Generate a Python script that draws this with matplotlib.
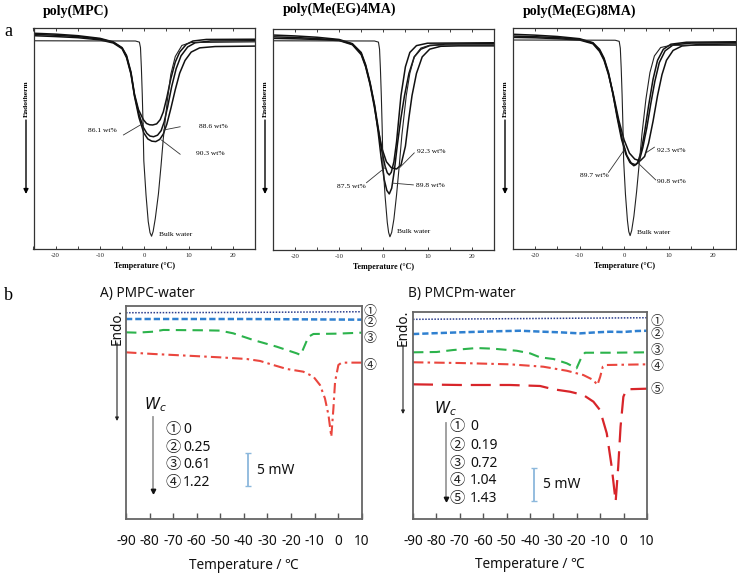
import matplotlib
matplotlib.use('Agg')
import matplotlib.pyplot as plt
from matplotlib.ticker import MultipleLocator, FixedLocator

plt.rcParams['axes.unicode_minus'] = False
plt.rcParams['mathtext.fontset'] = 'dejavusans'

SERIF = ['Liberation Serif', 'DejaVu Serif']
SANS = ['Noto Sans', 'Noto Sans CJK JP', 'DejaVu Sans']
CJK = ['Noto Sans CJK JP', 'DejaVu Sans']

# ---------------- part a : DSC heating curves (T in degC, relative heat flow) ----
top_titles = ['poly(MPC)', 'poly(Me(EG)4MA)', 'poly(Me(EG)8MA)']
top_ticks = [-20, -10, 0, 10, 20]

# poly(MPC)
mpc_bulk_T = [-25, -2, -1.1, -0.85, -0.65, -0.45, -0.25, -0.1, 0.4, 0.9, 1.3, 1.65, 2.0, 2.5, 3.2, 3.8, 4.3, 5.2, 6.0, 7.0, 8.5, 10.5, 25]
mpc_bulk_h = [94.1, 94.0, 93.5, 91, 82, 70, 55, 40, 24.5, 12.5, 7.5, 5.9, 8, 14, 25, 38, 50, 67, 79, 87, 92, 93.3, 93.6]
mpc_861_T = [-25, -20, -15, -10, -7, -5, -4, -3, -2.2, -1.3, -0.2, 0.5, 1.2, 1.9, 2.8, 3.6, 4.3, 5.1, 6.0, 7.0, 8.0, 9.5, 11, 14, 25]
mpc_861_h = [97.5, 97.1, 96.4, 95.2, 93.6, 91, 87.5, 80, 70, 63, 58.5, 56.8, 56.2, 56.1, 56.6, 58.5, 62, 68.5, 77, 84.5, 89, 92.5, 94, 94.7, 94.8]
mpc_886_T = [-25, -20, -15, -10, -7, -5, -4, -3, -2.2, -1.2, -0.2, 0.6, 1.3, 2.1, 3.0, 3.8, 4.5, 5.3, 6.2, 7.2, 8.3, 9.8, 11.5, 15, 25]
mpc_886_h = [97.0, 96.6, 96.0, 94.9, 93.4, 90.8, 87, 79.5, 69.5, 61, 55, 52.3, 51.1, 50.8, 51.5, 53.5, 57.5, 64.5, 73.5, 81.5, 87.3, 91.3, 93.2, 94.0, 94.1]
mpc_903_T = [-25, -20, -15, -10, -7, -5, -4, -3, -2.2, -1.2, -0.1, 0.8, 1.7, 2.6, 3.5, 4.3, 5.1, 6.0, 7.0, 8.0, 9.2, 10.6, 12.5, 16, 25]
mpc_903_h = [96.4, 96.0, 95.5, 94.5, 93.1, 90.5, 86.5, 79, 69, 59.5, 52.5, 49.8, 48.8, 48.6, 49.6, 52, 56.5, 63.5, 72, 79.5, 85.2, 89, 90.9, 91.5, 91.7]

# poly(Me(EG)4MA)
eg4_bulk_T = [-25, -2, -1.1, -0.85, -0.65, -0.45, -0.25, -0.1, 0.4, 0.9, 1.2, 1.5, 1.9, 2.4, 3.0, 3.6, 4.2, 5.2, 6.0, 7.0, 8.5, 10.5, 25]
eg4_bulk_h = [94.8, 94.7, 94.2, 91, 82, 70, 55, 40, 24.5, 12.5, 8, 6.0, 8, 14, 25, 38, 52, 70, 80, 87.5, 91.5, 92.8, 93.0]
eg4_875_T = [-25, -20, -15, -10, -7, -5, -4, -3, -2, -1.2, -0.4, 0.4, 0.9, 1.35, 1.8, 2.4, 3.0, 4.0, 5.0, 6.0, 7.5, 10, 25]
eg4_875_h = [97.4, 97.0, 96.4, 95.4, 93.5, 89.5, 84, 76, 66, 56, 45.5, 38, 35, 34.0, 35.2, 40, 49, 70, 83, 89.5, 92.6, 93.7, 93.9]
eg4_898_T = [-25, -20, -15, -10, -7, -5, -4, -3, -2, -1.2, -0.5, 0.2, 0.8, 1.35, 1.9, 2.5, 3.2, 4.0, 4.8, 5.8, 7, 8.5, 10.5, 14, 25]
eg4_898_h = [96.6, 96.3, 95.8, 95.1, 93.3, 89, 83.5, 75.5, 65.5, 54, 42, 32, 27, 25.4, 28, 36, 48, 60, 70, 80, 87.5, 91, 92.6, 93.3, 93.5]
eg4_923_T = [-25, -20, -15, -10, -7, -5, -4, -3, -2, -1.2, -0.3, 0.7, 1.8, 3.0, 4.0, 5.0, 5.8, 6.5, 7.5, 8.8, 10.5, 13, 17, 25]
eg4_923_h = [95.9, 95.7, 95.4, 94.9, 93, 88.5, 83, 75, 64.5, 55, 46, 40, 37.3, 36.7, 38.5, 47, 60, 70, 80, 87.5, 91, 92.3, 92.5, 92.5]

# poly(Me(EG)8MA)
eg8_bulk_T = [-25, -2, -1.1, -0.85, -0.65, -0.45, -0.25, -0.1, 0.3, 0.75, 1.05, 1.35, 1.7, 2.2, 2.8, 3.4, 4.0, 4.9, 5.8, 6.8, 8.2, 10.5, 25]
eg8_bulk_h = [94.7, 94.6, 94.1, 91, 82, 70, 55, 40, 25, 13, 8, 6.2, 8.5, 15, 26, 39, 52, 68, 80, 87.5, 91.3, 92.3, 92.3]
eg8_897_T = [-25, -20, -15, -10, -7, -5.5, -4.5, -3.5, -2.6, -1.6, -0.6, 0.4, 1.3, 2.2, 3.0, 3.8, 4.6, 5.5, 6.5, 7.5, 8.8, 10.5, 14, 25]
eg8_897_h = [97.3, 96.9, 96.3, 95.3, 93.5, 90.5, 86.5, 80, 71.5, 60, 50, 43, 39.3, 37.8, 39, 44, 53, 65, 77, 85.5, 90.5, 92.8, 93.7, 93.9]
eg8_908_T = [-25, -20, -15, -10, -7, -5.5, -4.5, -3.5, -2.6, -1.4, -0.4, 0.6, 1.6, 2.6, 3.4, 4.2, 5.1, 6.0, 6.9, 7.9, 9.2, 11, 15, 25]
eg8_908_h = [96.5, 96.2, 95.8, 95.0, 93.3, 90, 86, 79.5, 71, 59, 49.5, 42.5, 39, 38.2, 40, 46, 55, 66, 76, 84.5, 89.8, 92.5, 93.3, 93.5]
eg8_923_T = [-25, -20, -15, -10, -7, -5.5, -4.5, -3.5, -2.4, -1.2, 0, 1.2, 2.4, 3.6, 4.6, 5.5, 6.5, 7.5, 8.5, 9.5, 11, 13, 17, 25]
eg8_923_h = [95.9, 95.7, 95.3, 94.7, 93, 89.5, 85.5, 79, 70, 58.5, 49.5, 43.5, 40.8, 40.0, 42, 48, 58, 69.5, 79, 85.5, 90, 92, 92.7, 92.9]

# ---------------- part b : DSC curves (T in degC, heat flow in mW) -----
bottom_ticks = [-90, -80, -70, -60, -50, -40, -30, -20, -10, 0, 10]
circled = ['①', '②', '③', '④', '⑤']
pmpc_wc = ['0', '0.25', '0.61', '1.22']
pmcpm_wc = ['0', '0.19', '0.72', '1.04', '1.43']

pmpc1_T = [-90, -40, 10]
pmpc1_h = [31.25, 31.3, 31.4]
pmpc2_T = [-90, -40, 10]
pmpc2_h = [30.3, 30.3, 30.2]
pmpc3_T = [-90, -85.5, -78.4, -74.2, -57.2, -50.1, -44.5, -36, -26.1, -17.6, -15.9, -12.6, -10.5, -0.6, 10]
pmpc3_h = [28.28, 28.23, 28.38, 28.64, 28.59, 28.54, 28.13, 27.12, 26.11, 25.1, 24.85, 27.6, 28.03, 28.08, 28.23]
pmpc4_T = [-90, -78.4, -64.3, -50.1, -38.8, -33.1, -27.5, -21.8, -14.8, -10.5, -7.7, -5.6, -4.1, -2.9, -2.0, -1.3, 0.1, 1.5, 10]
pmpc4_h = [25.25, 25.0, 24.75, 24.49, 24.24, 23.94, 23.33, 22.73, 22.32, 21.57, 20.3, 18.28, 15.76, 12.47, 16.77, 20.8, 23.33, 23.69, 23.69]

pmcpm1_T = [-90, -40, 10]
pmcpm1_h = [30.18, 30.3, 30.42]
pmcpm2_T = [-90, -82.7, -70, -55.7, -44.3, -34.3, -27.2, -18.7, -11.6, -5.9, -0.2, 5.5, 10]
pmcpm2_h = [27.95, 28.05, 28.21, 28.36, 28.45, 28.3, 28.21, 28.05, 28.21, 28.3, 28.26, 28.41, 28.45]
pmcpm3_T = [-90, -79.9, -72.8, -62.8, -55.7, -45.7, -40.0, -35.7, -30.0, -24.3, -20.1, -17.9, -16.5, -5.8, 10]
pmcpm3_h = [25.18, 25.23, 25.53, 25.83, 25.73, 25.42, 25.03, 24.42, 24.17, 23.52, 22.76, 24.52, 25.12, 25.12, 25.18]
pmcpm4_T = [-90, -69.9, -48.5, -34.3, -24.3, -17.2, -12.9, -11.2, -10.0, -8.9, -7.2, 10]
pmcpm4_h = [23.67, 23.56, 23.36, 23.0, 22.39, 21.74, 20.98, 20.23, 21.48, 23.0, 23.26, 23.36]
pmcpm5_T = [-90, -69.9, -48.5, -35.7, -30.0, -22.9, -17.2, -12.9, -10.1, -7.2, -5.1, -3.4, -2.3, -1.3, -0.1, 1.3, 10]
pmcpm5_h = [20.33, 20.23, 20.23, 20.08, 19.58, 19.21, 18.71, 17.7, 16.44, 12.91, 7.85, 2.55, 7.85, 13.91, 18.45, 19.58, 19.67]

# ---------------------------------------------------------------------------------
W, H = 737, 574
fig = plt.figure(figsize=(W / 100, H / 100), dpi=100)


def fx(px):
    return px / W


def fy(py):
    return 1 - py / H


def rect(l, t, r, b):
    return [fx(l), fy(b), (r - l) / W, (b - t) / H]


def fig_arrow(ax, x, y0, y1, color='k', lw=0.8, ms=7):
    ax.annotate('', xy=(fx(x), fy(y1)), xytext=(fx(x), fy(y0)),
                xycoords='figure fraction', textcoords='figure fraction',
                arrowprops=dict(arrowstyle='-|>', color=color, lw=lw,
                                mutation_scale=ms, shrinkA=0, shrinkB=0),
                annotation_clip=False)


# ---------------- top row ----------------
top_rects = [rect(33.5, 27.7, 255, 249.3), rect(272.8, 29.3, 493.8, 250), rect(512.7, 28.3, 735.5, 249.3)]
top_title_pos = [(76, 11), (340, 9), (580, 11)]
endo_x = [26, 265, 505]
top_curves = [
    [(mpc_861_T, mpc_861_h), (mpc_886_T, mpc_886_h), (mpc_903_T, mpc_903_h)],
    [(eg4_875_T, eg4_875_h), (eg4_898_T, eg4_898_h), (eg4_923_T, eg4_923_h)],
    [(eg8_897_T, eg8_897_h), (eg8_908_T, eg8_908_h), (eg8_923_T, eg8_923_h)],
]
bulk_curves = [(mpc_bulk_T, mpc_bulk_h), (eg4_bulk_T, eg4_bulk_h), (eg8_bulk_T, eg8_bulk_h)]
# (label, text position, ha, leader start, leader end)
top_labels = [
    [('86.1 wt%', (-6.3, 53.8), 'right', (-4.7, 51.6), (-0.2, 56.9)),
     ('88.6 wt%', (12.3, 55.4), 'left', (8.1, 55.3), (4.3, 53.8)),
     ('90.3 wt%', (11.6, 43.4), 'left', (8.1, 42.9), (3.9, 49.3))],
    [('92.3 wt%', (7.6, 44.5), 'left', (7.0, 44.0), (3.8, 37.5)),
     ('87.5 wt%', (-3.9, 28.7), 'right', (-3.8, 30.5), (0.5, 37.5)),
     ('89.8 wt%', (7.3, 29.1), 'left', (6.8, 29.5), (2.1, 30.3))],
    [('92.3 wt%', (7.3, 44.9), 'left', (6.8, 46.2), (4.8, 43.5)),
     ('89.7 wt%', (-3.5, 33.3), 'right', (-3.5, 34.8), (0.2, 45.5)),
     ('90.8 wt%', (7.3, 30.6), 'left', (7.1, 31.4), (3.2, 38.9))],
]
bulk_label_x = [3.4, 3.0, 3.0]
bulk_label_y = [6.8, 8.3, 7.5]

for i in range(3):
    ax = fig.add_axes(top_rects[i])
    for T, h in top_curves[i]:
        ax.plot(T, h, color='#111111', lw=1.1, solid_joinstyle='round')
    bT, bh = bulk_curves[i]
    ax.plot(bT, bh, color='#222222', lw=0.8)
    ax.set_xlim(-25, 25)
    ax.set_ylim(0, 100)
    ax.xaxis.set_major_locator(FixedLocator(top_ticks))
    ax.xaxis.set_minor_locator(MultipleLocator(5))
    ax.tick_params(axis='x', which='both', direction='in', top=True, bottom=True,
                   length=2.5, width=0.6, labelsize=4.8, pad=3, colors='#222222')
    ax.set_yticks([])
    for lbl in ax.get_xticklabels():
        lbl.set_family(SERIF)
    for s in ax.spines.values():
        s.set_linewidth(0.9)
        s.set_color('#333333')
    ax.set_xlabel('Temperature (°C)', fontsize=5.8, fontweight='bold', family=SERIF, labelpad=2.5)
    for txt, pos, ha, p0, p1 in top_labels[i]:
        ax.plot([p0[0], p1[0]], [p0[1], p1[1]], color='#333333', lw=0.6)
        ax.text(pos[0], pos[1], txt, ha=ha, va='center', fontsize=5.4, family=SERIF)
    ax.text(bulk_label_x[i], bulk_label_y[i], 'Bulk water', ha='left', va='center', fontsize=5.4, family=SERIF)
    fig.text(fx(top_title_pos[i][0]), fy(top_title_pos[i][1]), top_titles[i], ha='center', va='center',
             fontsize=10, fontweight='bold', family=SERIF)
    fig.text(fx(endo_x[i]), fy(99), 'Endotherm', rotation=90, ha='center', va='center',
             fontsize=5.4, fontweight='bold', family=SERIF)
    fig_arrow(ax, endo_x[i], 120, 194, lw=1.0, ms=7)

fig.text(fx(8), fy(32), 'a', ha='center', va='center', fontsize=13, family=SERIF)
fig.text(fx(8), fy(296), 'b', ha='center', va='center', fontsize=13, family=SERIF)

# ---------------- bottom row ----------------
styles = [
    dict(color='#2b3d8c', ls=(0, (1, 1)), lw=1.1),
    dict(color='#2f80d0', ls=(0, (2.5, 1.2)), lw=1.8),
    dict(color='#2cb34c', ls=(0, (5, 3)), lw=1.5),
    dict(color='#ea463e', ls=(0, (5, 2, 1.2, 2)), lw=1.5),
    dict(color='#d8252a', ls=(0, (9, 4)), lw=1.6),
]

bottom_sets = [
    dict(rect=rect(126, 306, 361.7, 519), ylim=(0, 32.27), title='A) PMPC-water', title_x=100,
         curves=[(pmpc1_T, pmpc1_h), (pmpc2_T, pmpc2_h), (pmpc3_T, pmpc3_h), (pmpc4_T, pmpc4_h)],
         wc=pmpc_wc, right_x=13.5, right_y=[31.5, 29.7, 27.4, 23.3],
         endo_x=117, endo_y=327, arr=(343, 421),
         wc_pos=(-77.7, 17.3), wc_arrow=(-78.5, 15.5, 4.3), leg_x=(-70.0, -65.8),
         leg_y=[13.6, 10.9, 8.3, 5.6], bar=(-38.2, 5.0, 10.05), bar_text=(-34.4, 7.4)),
    dict(rect=rect(413, 312, 647, 518.5), ylim=(0, 31.29), title='B) PMCPm-water', title_x=408,
         curves=[(pmcpm1_T, pmcpm1_h), (pmcpm2_T, pmcpm2_h), (pmcpm3_T, pmcpm3_h),
                 (pmcpm4_T, pmcpm4_h), (pmcpm5_T, pmcpm5_h)],
         wc=pmcpm_wc, right_x=14.3, right_y=[29.9, 27.95, 25.5, 23.1, 19.6],
         endo_x=403, endo_y=328, arr=(345, 414),
         wc_pos=(-76.3, 16.7), wc_arrow=(-75.9, 14.5, 2.9), leg_x=(-71.2, -65.6),
         leg_y=[13.9, 11.0, 8.4, 5.7, 3.1], bar=(-38.3, 2.65, 7.65), bar_text=(-34.4, 5.2)),
]

for k, d in enumerate(bottom_sets):
    ax = fig.add_axes(d['rect'])
    for j, (T, h) in enumerate(d['curves']):
        st = styles[j]
        ax.plot(T, h, color=st['color'], linestyle=st['ls'], lw=st['lw'])
    ax.set_xlim(-90, 10)
    ax.set_ylim(*d['ylim'])
    ax.set_xticks(bottom_ticks)
    ax.set_xticklabels([str(t) for t in bottom_ticks])
    ax.set_yticks([])
    ax.tick_params(axis='x', direction='in', length=4, width=1.0, colors='#555555',
                   labelcolor='#111111', labelsize=9.8, pad=11)
    for lbl in ax.get_xticklabels():
        lbl.set_family(SANS)
    for s in ax.spines.values():
        s.set_linewidth(1.3)
        s.set_color('#666666')
    ax.set_xlabel('Temperature / ℃', fontsize=9.8, family=SANS, labelpad=6, color='#111111')
    fig.text(fx(d['title_x']), fy(294), d['title'], ha='left', va='center', fontsize=9.8,
             family=SANS, color='#111111')
    # right-hand curve numbers
    for j, y in enumerate(d['right_y']):
        ax.text(d['right_x'], y, circled[j], ha='center', va='center', fontsize=9.3,
                family=CJK, color='#222222', clip_on=False)
    # Endo. label and arrow
    fig.text(fx(d['endo_x']), fy(d['endo_y']), 'Endo.', rotation=90, ha='center', va='center',
             fontsize=9.8, family=SANS, color='#111111')
    fig_arrow(ax, d['endo_x'], d['arr'][0], d['arr'][1], color='#222222', lw=0.8, ms=5)
    # Wc legend
    ax.text(d['wc_pos'][0], d['wc_pos'][1], r'$W_c$', ha='center', va='center', fontsize=11,
            color='#111111')
    wx, wy0, wy1 = d['wc_arrow']
    ax.plot([wx, wx], [wy0, wy1 + 0.4], color='#9a9a9a', lw=1.3)
    ax.plot([wx], [wy1], marker='v', color='#111111', ms=3.2)
    for j, val in enumerate(d['wc']):
        ax.text(d['leg_x'][0], d['leg_y'][j], circled[j], ha='center', va='center', fontsize=11,
                family=CJK, color='#222222')
        ax.text(d['leg_x'][1], d['leg_y'][j], val, ha='left', va='center', fontsize=10,
                family=SANS, color='#111111')
    # 5 mW scale bar
    bx, by0, by1 = d['bar']
    ax.errorbar([bx], [(by0 + by1) / 2], yerr=[[(by1 - by0) / 2], [(by1 - by0) / 2]],
                fmt='none', ecolor='#8cb8dc', elinewidth=1.3, capsize=2.5, capthick=1.0)
    ax.text(d['bar_text'][0], d['bar_text'][1], '5 mW', ha='left', va='center', fontsize=10,
            family=SANS, color='#111111')

fig.savefig('out.png', dpi=100)
